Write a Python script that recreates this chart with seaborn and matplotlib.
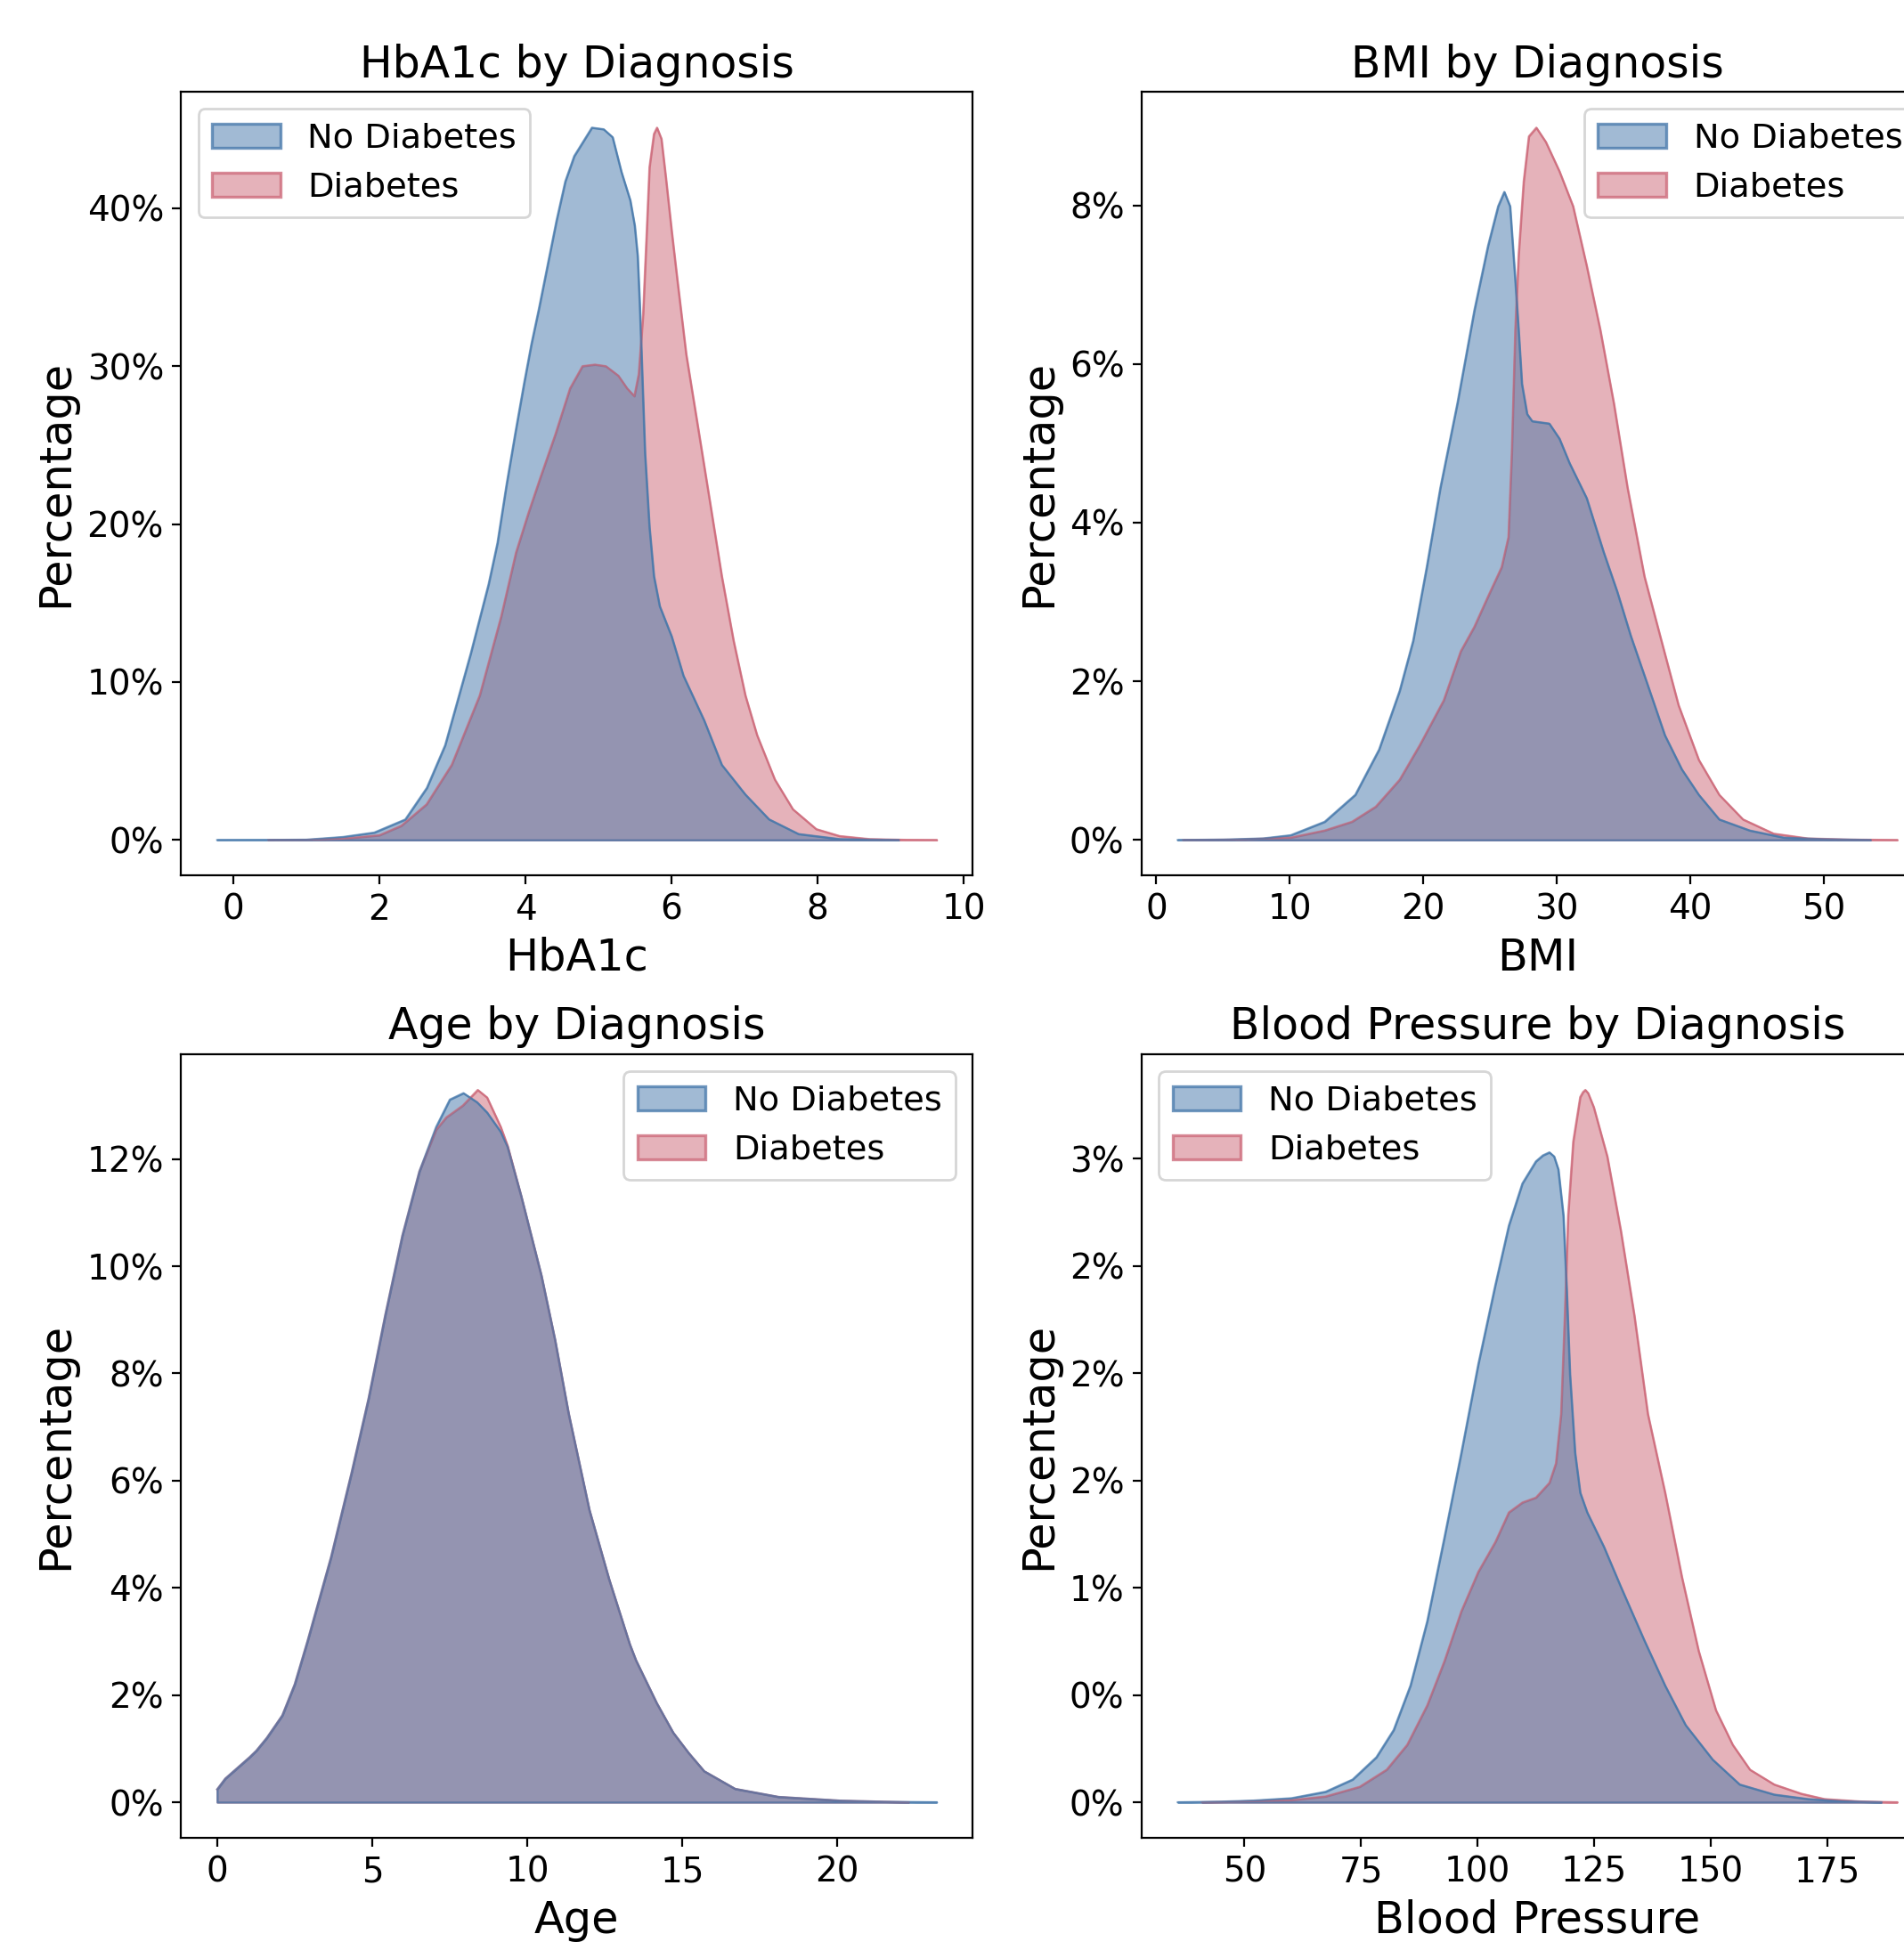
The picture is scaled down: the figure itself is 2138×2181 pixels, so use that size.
import numpy as np
import pandas as pd
import matplotlib
matplotlib.use("Agg")
import matplotlib.pyplot as plt
import matplotlib.ticker as mtick
from matplotlib.patches import Patch
from matplotlib.colors import to_rgba
import seaborn as sns

# density curves (x, density in %)
hba1c_no_x = [-0.22, 0.5, 1.0, 1.5, 1.93, 2.355, 2.65, 2.9, 3.25, 3.495, 3.616, 3.737, 3.858, 3.98, 4.081,
              4.182, 4.303, 4.424, 4.545, 4.667, 4.788, 4.909, 5.07, 5.192, 5.313, 5.434, 5.495, 5.535,
              5.564, 5.588, 5.636, 5.697, 5.758, 5.838, 6.0, 6.162, 6.445, 6.687, 7.01, 7.334, 7.738,
              8.3, 8.73, 9.11]
hba1c_no_y = [0, 0.005, 0.02, 0.19, 0.47, 1.3, 3.3, 6.0, 11.8, 16.2, 18.8, 22.4, 25.7, 28.9, 31.4,
              33.6, 36.4, 39.2, 41.7, 43.3, 44.2, 45.1, 45.0, 44.5, 42.3, 40.5, 38.9, 37.0,
              33.9, 30.8, 24.5, 19.8, 16.7, 14.8, 12.9, 10.4, 7.58, 4.76, 2.88, 1.31, 0.38,
              0.06, 0.02, 0]
hba1c_yes_x = [0.48, 1.0, 1.5, 2.0, 2.3, 2.646, 2.99, 3.373, 3.667, 3.87, 4.04, 4.2, 4.41, 4.61, 4.78,
               4.95, 5.1, 5.27, 5.39, 5.49, 5.55, 5.61, 5.66, 5.697, 5.758, 5.8, 5.86, 5.92, 6.0, 6.08,
               6.2, 6.364, 6.525, 6.687, 6.849, 7.01, 7.17, 7.413, 7.66, 7.98, 8.3, 8.71, 9.2, 9.63]
hba1c_yes_y = [0, 0.01, 0.08, 0.3, 0.9, 2.26, 4.76, 9.15, 14.15, 18.2, 20.7, 22.9, 25.7, 28.6, 30.0,
               30.1, 30.0, 29.4, 28.6, 28.1, 29.5, 33.3, 38.6, 42.6, 44.7, 45.1, 44.4, 42.0, 38.6, 35.4,
               30.75, 26.05, 21.4, 16.7, 12.6, 9.15, 6.64, 3.83, 1.95, 0.69, 0.25, 0.06, 0.01, 0]

bmi_no_x = [1.6, 5, 8, 10.06, 12.61, 14.9, 16.68, 18.22, 19.23, 20.25, 21.27, 22.54, 23.82, 24.84, 25.6,
            26.06, 26.49, 26.88, 27.13, 27.38, 27.77, 28.15, 29.43, 30.19, 30.95, 32.23, 33.5, 34.52,
            35.54, 36.81, 38.09, 39.36, 40.63, 42.16, 44.45, 47.0, 50, 53.5]
bmi_no_y = [0, 0.005, 0.02, 0.06, 0.23, 0.57, 1.14, 1.88, 2.51, 3.44, 4.44, 5.5, 6.68, 7.49, 7.99,
            8.17, 7.99, 7.06, 6.43, 5.75, 5.37, 5.28, 5.25, 5.06, 4.75, 4.31, 3.63, 3.13,
            2.57, 1.95, 1.32, 0.89, 0.57, 0.26, 0.12, 0.03, 0.01, 0]
bmi_yes_x = [2.0, 6, 10.06, 12.61, 14.65, 16.43, 18.22, 19.74, 21.52, 22.8, 23.82, 24.84, 25.86, 26.37,
             26.62, 26.88, 27.13, 27.51, 27.9, 28.46, 29.17, 30.19, 31.21, 32.23, 33.25, 34.27, 35.29,
             36.56, 37.83, 39.11, 40.63, 42.16, 43.94, 46.24, 48.8, 52, 55.5]
bmi_yes_y = [0, 0.005, 0.03, 0.12, 0.23, 0.42, 0.76, 1.2, 1.76, 2.38, 2.69, 3.07, 3.44, 3.82,
             4.88, 6.43, 7.37, 8.3, 8.87, 8.98, 8.8, 8.43, 7.99, 7.24, 6.43, 5.5, 4.44,
             3.32, 2.51, 1.7, 1.01, 0.57, 0.26, 0.08, 0.02, 0.005, 0]

age_no_x = [0, 0.26, 1.046, 1.26, 1.6, 2.1, 2.5, 2.91, 3.67, 4.33, 4.88, 5.42, 5.97, 6.52, 7.06, 7.5, 7.94,
            8.38, 8.7, 9.14, 9.36, 9.8, 10.45, 10.89, 11.33, 12.0, 12.64, 13.3, 13.5, 14.17, 14.7, 15.2,
            15.7, 16.7, 18.1, 20.1, 21.5, 23.2]
age_no_y = [0.24, 0.44, 0.84, 0.96, 1.2, 1.62, 2.2, 3.0, 4.57, 6.14, 7.53, 9.09, 10.57, 11.77, 12.6, 13.11, 13.23,
            13.06, 12.87, 12.51, 12.23, 11.31, 9.83, 8.63, 7.25, 5.45, 4.15, 2.95, 2.65, 1.85, 1.3, 0.92,
            0.58, 0.25, 0.1, 0.03, 0.01, 0]
age_yes_x = [0, 0.26, 1.046, 1.26, 1.6, 2.1, 2.5, 2.91, 3.67, 4.33, 4.88, 5.42, 5.97, 6.52, 7.06, 7.39, 7.61,
             7.92, 8.4, 8.7, 9.14, 9.36, 9.8, 10.45, 10.89, 11.33, 12.0, 12.64, 13.3, 13.5, 14.17, 14.7, 15.2,
             15.7, 16.7, 18.1, 20.1, 22.3]
age_yes_y = [0.24, 0.44, 0.84, 0.96, 1.2, 1.62, 2.2, 3.0, 4.57, 6.14, 7.53, 9.09, 10.57, 11.77, 12.55, 12.78, 12.87,
             13.0, 13.29, 13.15, 12.6, 12.25, 11.31, 9.83, 8.63, 7.25, 5.45, 4.15, 2.95, 2.65, 1.85, 1.3, 0.92,
             0.58, 0.25, 0.1, 0.03, 0]

bp_no_x = [35.7, 45, 52, 60.1, 67.4, 73.2, 78.3, 82.0, 85.6, 89.2, 92.9, 96.5, 100.15, 103.8, 106.7,
           109.6, 112.5, 114.0, 115.4, 116.4, 117.3, 118.4, 119.1, 119.8, 120.9, 122.0, 123.5, 127.1,
           130.7, 135.8, 140.2, 144.6, 150.4, 156.2, 163.6, 170.9, 178, 186.6]
bp_no_y = [0, 0.003, 0.008, 0.019, 0.049, 0.106, 0.21, 0.337, 0.544, 0.844, 1.236, 1.628, 2.042, 2.411, 2.688,
           2.884, 2.987, 3.015, 3.029, 3.01, 2.95, 2.734, 2.388, 1.996, 1.628, 1.443, 1.351, 1.19,
           1.005, 0.752, 0.544, 0.36, 0.199, 0.083, 0.036, 0.015, 0.005, 0]
bp_yes_x = [40.9, 50, 60.1, 67.4, 74.7, 80.5, 84.9, 89.2, 92.9, 96.5, 100.15, 103.8, 106.7, 109.6, 112.5,
            115.4, 116.8, 117.9, 118.7, 119.4, 120.5, 122.0, 122.6, 123.1, 123.7, 124.9, 127.8, 130.7,
            133.6, 136.5, 140.2, 143.8, 147.4, 151.1, 154.7, 158.4, 163.6, 169.4, 174.4, 182, 190]
bp_yes_y = [0, 0.004, 0.01, 0.027, 0.072, 0.152, 0.268, 0.452, 0.659, 0.89, 1.074, 1.213, 1.351, 1.397, 1.42,
            1.489, 1.58, 1.81, 2.27, 2.734, 3.08, 3.287, 3.31, 3.32, 3.305, 3.24, 3.01, 2.665,
            2.27, 1.81, 1.443, 1.05, 0.705, 0.429, 0.268, 0.152, 0.083, 0.04, 0.015, 0.004, 0]

labels = ["No Diabetes", "Diabetes"]
colors = sns.color_palette(["#4477AA", "#CC6677"])

panels = [
    ("HbA1c", (hba1c_no_x, hba1c_no_y), (hba1c_yes_x, hba1c_yes_y), "upper left"),
    ("BMI", (bmi_no_x, bmi_no_y), (bmi_yes_x, bmi_yes_y), "upper right"),
    ("Age", (age_no_x, age_no_y), (age_yes_x, age_yes_y), "upper right"),
    ("Blood Pressure", (bp_no_x, bp_no_y), (bp_yes_x, bp_yes_y), "upper left"),
]

W, H, DPI = 2138, 2181, 200
fig = plt.figure(figsize=(W / DPI, H / DPI), dpi=DPI)
aw, ah = 888.8 / W, 880 / H
rects = [(203.4 / W, 1 - 983.3 / H, aw, ah), (1282 / W, 1 - 983.3 / H, aw, ah),
         (203.4 / W, 1 - 2064 / H, aw, ah), (1282 / W, 1 - 2064 / H, aw, ah)]

for rect, (name, no, yes, loc) in zip(rects, panels):
    ax = fig.add_axes(rect)
    # diabetes first, no diabetes drawn on top
    for (xs, ys), c in [(yes, colors[1]), (no, colors[0])]:
        xs = np.array(xs)
        ys = np.array(ys) / 100
        ax.fill_between(xs, ys, 0, facecolor=to_rgba(c, 0.5), edgecolor=to_rgba(c, 0.75), linewidth=0.8)
        sns.lineplot(x=xs, y=ys, ax=ax, color=c, linewidth=0.8, alpha=0.6, sort=False,
                     estimator=None, errorbar=None, legend=False)
    ax.yaxis.set_major_formatter(mtick.PercentFormatter(1.0, decimals=0))
    ax.set_title(f"{name} by Diagnosis", fontsize=17.6)
    ax.set_xlabel(name, fontsize=17.8)
    ax.set_ylabel("Percentage", fontsize=17.8)
    ax.tick_params(labelsize=14)
    handles = [Patch(facecolor=to_rgba(c, 0.5), edgecolor=to_rgba(c, 0.75), linewidth=1.2) for c in colors]
    ax.legend(handles, labels, loc=loc, fontsize=13.8)

fig.savefig("out.png", dpi=DPI)
